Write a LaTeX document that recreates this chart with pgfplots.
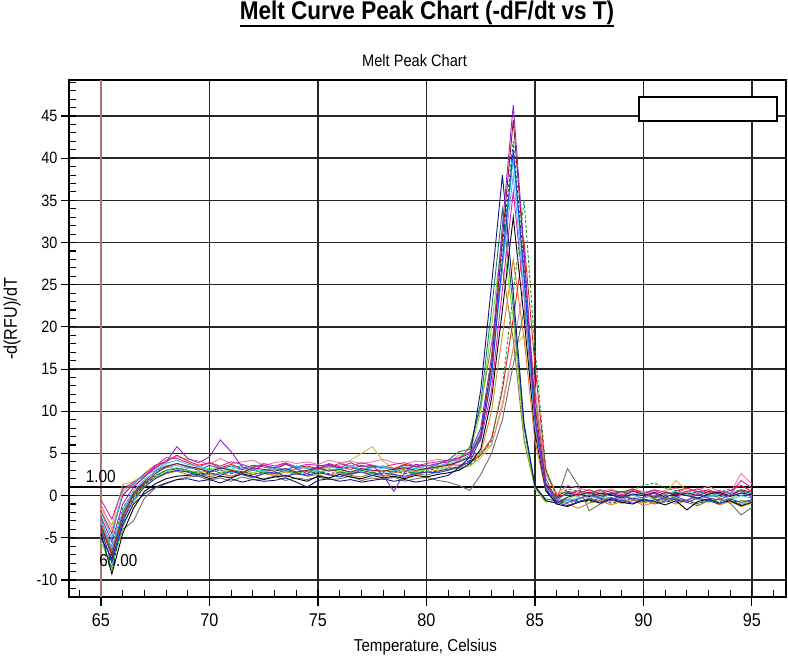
\documentclass[border=0pt]{standalone}
\usepackage{fontspec}
\setmainfont{Liberation Sans}[FakeStretch=0.88]
\usepackage{pgfplots}
\usepackage{pgfplotstable}
\pgfplotsset{compat=1.18}

\definecolor{gridc}{gray}{0.15}
\definecolor{startc}{RGB}{170,120,115}
\definecolor{k1}{RGB}{140,40,200}
\definecolor{k2}{RGB}{150,20,40}
\definecolor{k3}{RGB}{30,60,230}
\definecolor{k4}{RGB}{20,20,120}
\definecolor{k5}{RGB}{40,200,220}
\definecolor{k6}{RGB}{20,150,40}
\definecolor{k7}{RGB}{200,190,60}
\definecolor{k8}{RGB}{220,30,180}
\definecolor{k9}{RGB}{0,0,0}
\definecolor{k10}{RGB}{20,120,130}
\definecolor{k11}{RGB}{230,130,30}
\definecolor{k12}{RGB}{240,120,170}
\definecolor{k13}{RGB}{120,220,40}
\definecolor{k14}{RGB}{110,110,100}
\definecolor{k15}{RGB}{100,170,255}
\definecolor{k16}{RGB}{0,100,60}
\definecolor{k17}{RGB}{230,30,30}
\definecolor{k18}{RGB}{150,120,40}

% -dF/dT, 0.5 C steps
\pgfplotstableread{
T    c1   c2   c3   c4   c5   c6   c7   c8   c9   c10  c11  c12  c13  c14  c15  c16  c17  c18
65.0 -2.5 -3.5 -4.0 -5.0 -2.0 -3.0 -1.5 -0.5 -4.5 -2.8 -3.2 -1.0 -5.5 -4.2 -3.0 -4.8 -1.8 -3.8
65.5 -5.5 -7.0 -8.0 -7.5 -5.0 -6.0 -3.5 -2.8 -9.3 -6.5 -6.8 -4.0 -8.5 -7.8 -6.2 -8.8 -4.5 -7.2
66.0 -1.0 -2.5 -3.0 -3.5 0.5  -1.5 1.3  0.8  -4.5 -2.0 -2.2 0.2  -3.8 -4.0 -1.8 -3.2 0.0  -2.8
66.5 1.0  0.2  -0.5 -1.0 1.5  0.5  1.7  1.6  -1.5 0.3  -0.2 1.2  -0.8 -3.0 0.6  -0.2 1.4  0.0
67.0 2.2  1.5  1.0  0.2  2.4  1.6  2.5  2.3  0.5  1.7  1.2  2.2  1.0  -0.3 1.9  1.3  2.6  1.4
67.5 3.3  2.6  2.0  1.0  3.0  2.4  3.2  3.5  1.4  2.9  2.0  3.4  2.2  0.9  2.8  2.3  3.6  2.2
68.0 4.0  3.4  2.7  1.5  3.8  3.0  3.5  4.5  2.0  3.5  2.6  4.2  2.8  1.4  3.3  3.0  4.0  2.6
68.5 5.8  3.8  3.0  1.9  4.2  3.3  3.1  4.4  2.3  3.8  3.0  4.6  3.2  1.9  3.6  3.2  4.8  2.9
69.0 4.4  3.5  2.8  2.0  3.7  3.0  3.4  3.9  2.4  3.4  2.8  4.3  3.0  2.2  3.2  2.9  4.1  2.5
69.5 3.9  3.2  2.3  1.7  3.5  2.6  3.2  3.4  2.5  3.0  2.9  4.1  2.7  2.3  3.4  2.5  3.6  2.7
70.0 4.6  2.8  2.7  1.9  3.0  3.1  2.8  3.9  2.0  3.6  2.4  3.7  3.3  1.8  2.9  2.8  3.9  2.2
70.5 6.6  3.3  2.4  1.5  3.4  2.7  3.3  3.5  2.3  3.2  2.7  4.4  2.6  2.1  3.1  3.0  3.3  2.6
71.0 5.2  3.0  2.9  2.0  3.1  2.9  2.9  4.0  2.1  3.5  2.3  3.8  3.1  1.7  2.7  2.6  3.7  2.3
71.5 3.4  2.7  2.5  1.6  3.6  2.5  3.1  3.7  2.6  3.1  2.8  4.0  2.8  2.2  3.2  2.9  3.2  2.5
72.0 3.0  3.3  2.2  1.9  3.2  3.0  2.7  3.3  2.3  3.4  2.5  4.2  3.0  1.9  3.0  2.5  3.6  2.1
72.5 3.6  3.1  2.6  1.7  2.9  2.8  3.0  3.8  1.9  3.6  2.7  3.6  2.7  2.0  2.8  2.8  3.4  2.6
73.0 3.3  2.9  2.8  1.8  3.4  2.6  3.3  3.5  2.2  3.2  2.4  3.9  3.1  2.3  3.3  2.6  3.1  2.4
73.5 3.8  3.2  2.3  2.1  3.1  3.0  2.9  3.9  2.4  3.0  2.8  4.1  2.9  1.8  2.9  3.0  3.7  2.2
74.0 3.2  2.8  2.6  1.6  3.5  2.7  3.2  3.4  2.0  3.5  2.5  3.8  2.6  2.1  3.1  2.7  3.3  2.7
74.5 2.6  3.0  2.4  1.0  3.2  2.9  2.8  3.7  1.7  3.3  2.6  4.0  3.0  1.9  3.4  2.4  3.5  2.3
75.0 3.5  3.3  2.7  1.8  3.0  2.6  3.1  3.6  2.3  3.1  2.9  3.7  2.8  2.2  2.8  2.9  3.2  2.5
75.5 3.7  2.9  2.5  2.0  3.4  3.1  3.4  3.4  2.1  3.6  2.4  4.2  3.2  1.9  3.0  2.6  3.8  2.0
76.0 3.3  3.1  2.2  1.7  3.2  2.8  3.6  3.8  2.5  3.2  2.7  3.9  2.9  2.0  3.2  2.8  3.4  2.6
76.5 3.9  2.8  2.6  1.9  3.6  2.6  4.2  3.5  2.2  3.4  2.5  4.1  2.7  2.3  2.7  2.5  3.1  2.4
77.0 3.4  3.2  2.8  1.6  3.1  3.0  5.0  3.9  2.0  3.0  2.8  3.8  3.1  1.8  3.1  3.0  3.6  2.2
77.5 3.6  3.0  2.4  1.8  3.3  2.7  5.8  3.6  2.4  3.5  2.6  4.0  2.9  2.1  2.9  2.7  3.3  2.7
78.0 2.4  2.9  2.7  2.0  3.5  2.9  4.1  3.4  2.1  3.3  2.3  4.3  3.0  1.9  3.3  2.5  3.5  2.3
78.5 0.5  3.1  2.5  1.7  3.0  2.8  3.2  3.7  2.3  3.1  2.7  3.9  2.8  2.2  3.0  2.9  3.2  2.5
79.0 2.8  3.3  2.3  1.9  3.4  3.1  3.0  3.9  2.0  3.6  2.9  3.7  3.2  1.7  2.8  2.6  3.7  2.1
79.5 3.7  3.0  2.6  1.6  3.2  2.6  2.8  3.5  2.4  3.4  2.5  4.1  2.9  2.0  3.2  2.8  3.4  2.6
80.0 3.5  3.2  2.8  1.8  3.6  3.0  3.1  3.8  2.2  3.2  2.8  4.0  3.1  2.2  3.1  2.7  3.6  2.4
80.5 3.8  3.4  2.7  2.1  3.5  3.2  3.3  4.0  2.5  3.7  3.0  4.3  3.4  1.8  3.4  2.9  3.5  2.8
81.0 4.0  3.6  3.0  2.4  3.8  3.1  3.4  4.2  2.7  4.2  3.1  4.1  3.9  1.6  3.6  3.1  3.7  3.3
81.5 4.4  4.0  3.4  3.3  4.1  3.3  3.2  4.5  3.0  5.2  3.4  4.2  4.8  1.2  4.0  3.5  3.6  4.2
82.0 5.0  4.6  4.0  4.6  4.8  3.6  3.5  5.2  3.8  5.5  4.0  4.4  5.0  0.6  4.5  4.2  3.9  5.8
82.5 8.0  7.2  6.8  12.5 7.5  4.8  4.5  6.5  5.5  11.0 5.0  5.2  10.0 2.5  7.0  7.5  4.8  10.5
83.0 16.5 15.5 14.0 25.0 15.0 6.5  6.0  12.5 11.5 22.0 10.0 6.0  20.0 5.0  14.5 16.0 6.8  18.0
83.5 32.0 30.5 28.0 38.0 27.5 13.0 11.0 24.5 22.0 34.0 19.0 10.5 31.0 9.0  27.0 29.5 12.5 27.0
84.0 46.3 44.5 41.0 24.0 40.0 24.0 17.5 36.0 33.0 22.5 28.0 17.5 21.0 15.5 38.0 42.0 21.0 18.5
84.5 29.0 28.5 26.0 8.5  25.5 35.0 19.0 23.5 21.0 8.0  18.5 25.0 7.0  22.0 24.0 27.0 30.0 6.5
85.0 9.5  10.5 9.0  1.2  8.5  17.5 11.0 8.0  7.5  1.0  6.5  13.0 0.8  12.0 8.5  9.5  15.5 0.9
85.5 1.2  1.5  0.8  -0.6 1.0  3.2  2.8  0.9  0.6  -0.4 0.5  2.5  -0.8 2.0  1.1  1.3  3.0  -0.6
86.0 -0.6 -0.3 -0.8 -0.9 -0.4 -0.2 0.3  -0.2 -1.0 -0.6 -0.7 0.2  -0.5 -0.5 -0.3 -0.7 0.0  -0.9
86.5 -0.8 0.3  -1.2 -0.2 -0.6 0.8  0.5  0.2  -1.3 0.4  -1.0 1.2  -0.5 3.2  0.2  -0.9 0.5  -0.4
87.0 -0.4 0.1  -0.7 0.2  -0.3 0.5  -0.2 0.6  -0.8 0.0  -1.5 0.9  0.2  1.2  -0.1 -0.5 0.3  -0.8
87.5 0.1  0.4  -0.4 -0.1 0.0  0.2  -0.6 0.3  -0.5 0.3  -0.9 0.6  -0.3 -1.8 0.4  -0.8 0.7  -0.3
88.0 -0.3 0.0  -0.8 0.3  -0.4 0.6  -0.3 0.7  -0.9 -0.2 -0.6 0.4  0.1  -1.0 0.0  -0.4 0.2  -0.6
88.5 -0.6 0.3  -0.3 0.1  0.2  0.1  -0.7 0.4  -0.4 0.2  -1.1 0.8  -0.4 -0.5 0.3  -0.9 0.6  -0.2
89.0 0.0  -0.1 -0.6 -0.3 -0.5 0.4  -0.1 0.1  -0.8 0.5  -0.7 0.3  0.0  -0.9 -0.2 -0.6 0.4  -0.7
89.5 -0.4 0.5  -0.9 0.2  0.1  0.7  -0.5 0.6  -1.0 0.0  -0.4 0.7  -0.3 -0.6 0.1  -0.3 0.8  -0.4
90.0 -0.2 0.2  -0.4 0.0  -0.3 1.2  -0.8 0.3  -0.5 0.3  -1.2 0.5  0.2  -0.4 0.4  -0.7 0.3  -0.9
90.5 0.3  -0.2 -0.7 0.4  0.0  1.5  -0.2 0.7  -0.7 -0.3 -0.8 0.2  -0.4 -1.0 -0.1 -0.5 0.6  -0.5
91.0 -0.5 0.4  -0.2 -0.2 -0.6 0.9  0.3  0.4  -1.1 0.2  -0.5 0.6  0.1  -0.7 0.2  -0.8 0.1  -0.3
91.5 -0.1 0.1  -0.5 0.3  -0.2 0.6  1.8  0.1  -0.6 0.4  -1.0 0.9  -0.2 -0.3 0.5  -0.4 0.5  -0.8
92.0 -0.6 0.3  -0.8 0.0  0.2  0.2  0.6  0.5  -1.7 0.0  -0.6 0.4  0.3  -0.8 0.0  -0.6 0.9  -0.5
92.5 0.2  0.0  -0.3 -0.3 -0.4 0.5  -0.4 0.8  -0.7 0.5  -0.9 0.7  -0.5 -1.2 0.3  -1.0 0.4  -0.2
93.0 -0.3 0.5  -0.6 0.2  -0.1 0.1  -0.8 0.3  -0.4 0.1  -0.5 1.1  0.0  -0.6 -0.2 -0.5 0.7  -0.7
93.5 -0.5 0.2  -1.0 0.4  0.3  0.4  -0.3 0.6  -0.9 -0.2 -1.1 0.5  0.2  -0.4 0.1  -0.7 0.2  -0.4
94.0 0.1  -0.1 -0.4 -0.1 -0.5 0.8  -0.6 0.2  -0.6 0.3  -0.7 0.3  -0.4 -0.9 0.4  -0.4 0.6  -0.9
94.5 0.6  0.7  -0.8 0.3  0.0  0.5  -1.0 1.8  -1.2 0.6  -1.3 2.6  0.4  -2.3 0.2  -1.1 1.2  -0.6
95.0 -0.2 0.4  -0.5 0.1  -0.3 0.3  -0.6 0.9  -0.8 0.2  -0.9 1.4  -0.1 -1.4 0.0  -0.8 0.5  -0.7
}\meltdata

\begin{document}
\begin{tikzpicture}
\useasboundingbox (-69pt,-62pt) rectangle (719pt,597pt);
\begin{axis}[
  at={(0pt,0pt)}, anchor=south west,
  scale only axis, width=717pt, height=517pt,
  xmin=63.525, xmax=96.57, ymin=-12.02, ymax=49.27,
  xtick={65,70,...,95}, ytick={-10,-5,...,45},
  minor xtick={64,...,96}, minor ytick={-11,...,49},
  tick pos=left,
  tick align=inside, major tick length=0pt, minor tick length=7pt,
  grid=major, major grid style={gridc, line width=1.5pt},
  axis line style={black, line width=1.6pt},
  tick style={black, line width=1.1pt},
  extra x ticks={65,70,...,95}, extra x tick labels={},
  extra x tick style={tick align=outside, major tick length=9pt, grid=none},
  extra y ticks={-10,-5,...,45}, extra y tick labels={},
  extra y tick style={tick align=outside, major tick length=8pt, grid=none},
  /pgf/number format/assume math mode=true,
  xticklabel style={font=\fontsize{18.4}{20}\selectfont, yshift=-13pt},
  yticklabel style={font=\fontsize{16.4}{18}\selectfont, xshift=-8pt},
  every axis plot/.append style={line width=0.9pt},
]
\draw[startc, line width=1.6pt] (axis cs:65,-12.02) -- (axis cs:65,49.27);
\draw[black, line width=1.5pt] (axis cs:63.525,1) -- (axis cs:96.57,1);
\node[anchor=base east, inner sep=0, font=\fontsize{17.5}{19}\selectfont] at (axis cs:65.69,1.61) {1.00};
\node[anchor=base west, inner sep=0, font=\fontsize{17.3}{19}\selectfont] at (axis cs:64.91,-8.46) {65.00};

\addplot[k7]  table[x=T, y=c7]  {\meltdata};
\addplot[k14] table[x=T, y=c14] {\meltdata};
\addplot[k18] table[x=T, y=c18] {\meltdata};
\addplot[k12] table[x=T, y=c12] {\meltdata};
\addplot[k11] table[x=T, y=c11] {\meltdata};
\addplot[k17] table[x=T, y=c17] {\meltdata};
\addplot[k13] table[x=T, y=c13] {\meltdata};
\addplot[k10] table[x=T, y=c10] {\meltdata};
\addplot[k9]  table[x=T, y=c9]  {\meltdata};
\addplot[k16, densely dashed] table[x=T, y=c16] {\meltdata};
\addplot[k8]  table[x=T, y=c8]  {\meltdata};
\addplot[k6, densely dashed]  table[x=T, y=c6]  {\meltdata};
\addplot[k15] table[x=T, y=c15] {\meltdata};
\addplot[k5]  table[x=T, y=c5]  {\meltdata};
\addplot[k4]  table[x=T, y=c4]  {\meltdata};
\addplot[k3]  table[x=T, y=c3]  {\meltdata};
\addplot[k2]  table[x=T, y=c2]  {\meltdata};
\addplot[k1]  table[x=T, y=c1]  {\meltdata};
\end{axis}

% empty legend box
\draw[fill=white, line width=1.4pt] (570pt,476pt) rectangle (708pt,500pt);

\node[anchor=base, inner sep=0, font=\bfseries\fontsize{25.6}{28}\selectfont] (ttl) at (358pt,577pt) {Melt Curve Peak Chart (-dF/dt vs T)};
\draw[line width=2pt] ([yshift=-6.5pt]ttl.base west) -- ([yshift=-6.5pt]ttl.base east);
\node[anchor=base, inner sep=0, font=\fontsize{16.6}{18}\selectfont] at (345.5pt,530.3pt) {Melt Peak Chart};
\node[anchor=base, inner sep=0, font=\fontsize{17.2}{19}\selectfont] at (356.5pt,-55pt) {Temperature, Celsius};
\node[anchor=base, inner sep=0, rotate=90, font=\fontsize{18.4}{20}\selectfont] at (-52pt,278pt) {-d(RFU)/dT};
\end{tikzpicture}
\end{document}
